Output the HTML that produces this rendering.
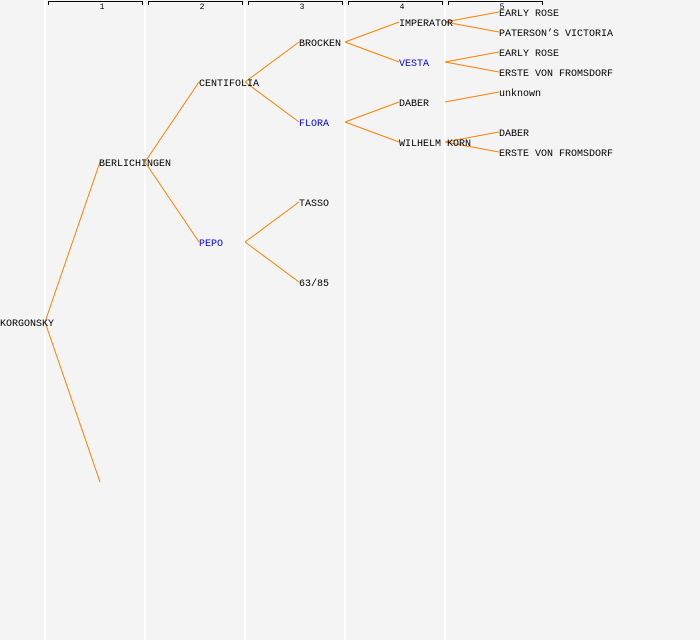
<!DOCTYPE html>
<html><head><style>html,body{margin:0;padding:0;background:#f4f4f4}</style></head>
<body>
<svg width="700" height="640" xmlns="http://www.w3.org/2000/svg" style="display:block">
<rect width="700" height="640" fill="#f4f4f4"/>
<g stroke="#ffffff" stroke-width="2">
<line x1="45" y1="0" x2="45" y2="640"/><line x1="145" y1="0" x2="145" y2="640"/>
<line x1="245" y1="0" x2="245" y2="640"/><line x1="345" y1="0" x2="345" y2="640"/>
<line x1="445" y1="0" x2="445" y2="640"/>
</g>
<g stroke="#000" stroke-width="1" fill="none">
<path d="M48.5 5V1.5H142.5V5"/><path d="M148.5 5V1.5H242.5V5"/><path d="M248.5 5V1.5H342.5V5"/>
<path d="M348.5 5V1.5H442.5V5"/><path d="M448.5 5V1.5H542.5V5"/>
</g>
<g font-family="Liberation Mono, monospace" font-size="8" text-anchor="middle" fill="#000">
<text x="102" y="9">1</text><text x="202" y="9">2</text><text x="302" y="9">3</text><text x="402" y="9">4</text><text x="502" y="9">5</text>
</g>
<g stroke="#ff8000" stroke-width="1">
<line x1="45" y1="322" x2="100" y2="162"/><line x1="45" y1="322" x2="100" y2="482"/>
<line x1="145" y1="162" x2="199" y2="82"/><line x1="145" y1="162" x2="199" y2="242"/>
<line x1="245" y1="82" x2="299" y2="42"/><line x1="245" y1="82" x2="299" y2="122"/>
<line x1="245" y1="242" x2="299" y2="202"/><line x1="245" y1="242" x2="299" y2="282"/>
<line x1="345" y1="42" x2="399" y2="22"/><line x1="345" y1="42" x2="399" y2="62"/>
<line x1="345" y1="122" x2="399" y2="102"/><line x1="345" y1="122" x2="399" y2="142"/>
<line x1="445" y1="22" x2="499" y2="12"/><line x1="445" y1="22" x2="499" y2="32"/>
<line x1="445" y1="62" x2="499" y2="52"/><line x1="445" y1="62" x2="499" y2="72"/>
<line x1="445" y1="102" x2="499" y2="92"/>
<line x1="445" y1="142" x2="499" y2="132"/><line x1="445" y1="142" x2="499" y2="152"/>
</g>
<g font-family="Liberation Mono, monospace" font-size="10" fill="#000">
<text x="0" y="326">KORGONSKY</text>
<text x="99" y="166">BERLICHINGEN</text>
<text x="199" y="86">CENTIFOLIA</text>
<text x="199" y="246" fill="#0000ff">PEPO</text>
<text x="299" y="46">BROCKEN</text>
<text x="299" y="126" fill="#0000ff">FLORA</text>
<text x="299" y="206">TASSO</text>
<text x="299" y="286">63/85</text>
<text x="399" y="26">IMPERATOR</text>
<text x="399" y="66" fill="#0000ff">VESTA</text>
<text x="399" y="106">DABER</text>
<text x="399" y="146">WILHELM KORN</text>
<text x="499" y="16">EARLY ROSE</text>
<text x="499" y="36">PATERSON’S VICTORIA</text>
<text x="499" y="56">EARLY ROSE</text>
<text x="499" y="76">ERSTE VON FROMSDORF</text>
<text x="499" y="96">unknown</text>
<text x="499" y="136">DABER</text>
<text x="499" y="156">ERSTE VON FROMSDORF</text>
</g>
</svg>
</body></html>
